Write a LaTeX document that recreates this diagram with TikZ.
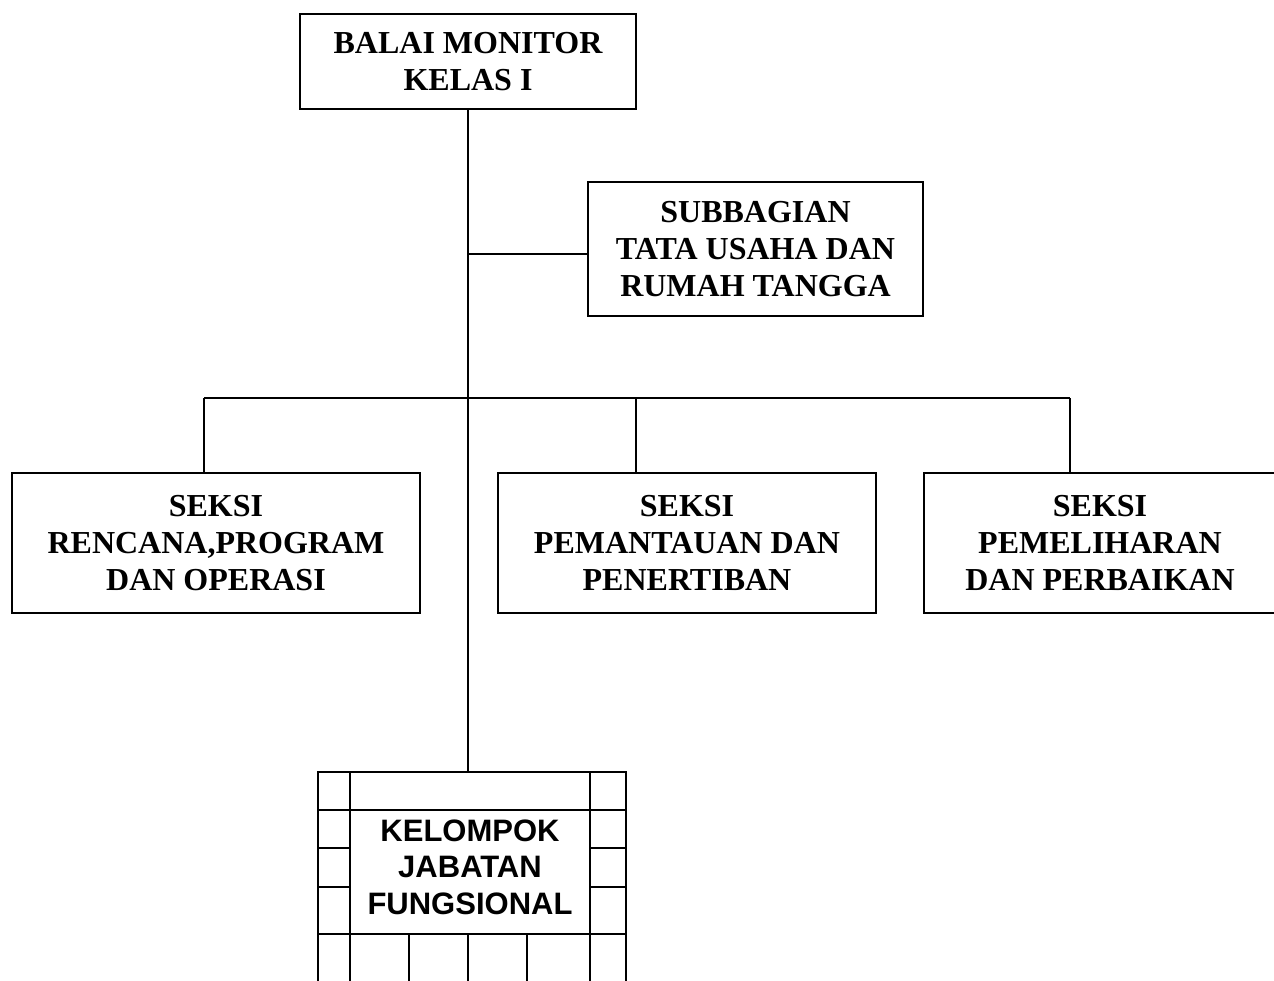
\documentclass[tikz,border=0pt]{standalone}
\usepackage{fontspec}
\setmainfont{Liberation Serif}
\newfontfamily\sansbold{Liberation Sans}
\usetikzlibrary{positioning}

\begin{document}
\begin{tikzpicture}
  [x=0.5pt,y=-0.5pt,
  unit/.style={rectangle,draw=black,line width=1pt,align=center,minimum height=70pt,
    font=\fontsize{16}{18.5}\selectfont\bfseries},
  link/.style={draw=black,line width=1pt},
  ]
  \clip (0,0) rectangle (1274,980);
  \node[unit,minimum width=168pt,minimum height=47.5pt] (balai) at (468,61.5) {BALAI MONITOR\\KELAS I};
  \node[unit,minimum width=167.5pt,minimum height=67pt] (subbag) at (755.5,249) {SUBBAGIAN\\TATA USAHA DAN\\RUMAH TANGGA};
  \node[unit,minimum width=204pt] (rencana) at (216,543) {SEKSI\\RENCANA,PROGRAM\\DAN OPERASI};
  \node[unit,minimum width=189pt] (pemantauan) at (687,543) {SEKSI\\PEMANTAUAN DAN\\PENERTIBAN};
  \node[unit,minimum width=176pt] (pemeliharaan) at (1100,543) {SEKSI\\PEMELIHARAN\\DAN PERBAIKAN};
  \node[align=center,font=\sansbold\fontsize{15.5}{18.3}\selectfont\bfseries] (kelompok) at (470,867) {KELOMPOK\\JABATAN\\FUNGSIONAL};
  \coordinate (gridtop) at (468,772);
  \coordinate (subjoin) at (468,254);
  \coordinate (busL) at (204,398);
  \coordinate (busM) at (636,398);
  \coordinate (busR) at (1070,398);
  \draw[link] (balai.south) -- (gridtop);
  \draw[link] (subjoin) -- (subjoin -| subbag.west);
  \draw[link] (busL) -- (busR);
  \draw[link] (busL) -- (busL |- rencana.north);
  \draw[link] (busM) -- (busM |- pemantauan.north);
  \draw[link] (busR) -- (busR |- pemeliharaan.north);
  \draw[link] (318,772) rectangle (626,1000);
  \foreach \x in {350,590} \draw[link] (\x,772) -- (\x,1000);
  \foreach \y in {810,934} \draw[link] (318,\y) -- (626,\y);
  \foreach \y in {848,887} {\draw[link] (318,\y) -- (350,\y); \draw[link] (590,\y) -- (626,\y);}
  \foreach \x in {409,468,527} \draw[link] (\x,934) -- (\x,1000);
\end{tikzpicture}
\end{document}
